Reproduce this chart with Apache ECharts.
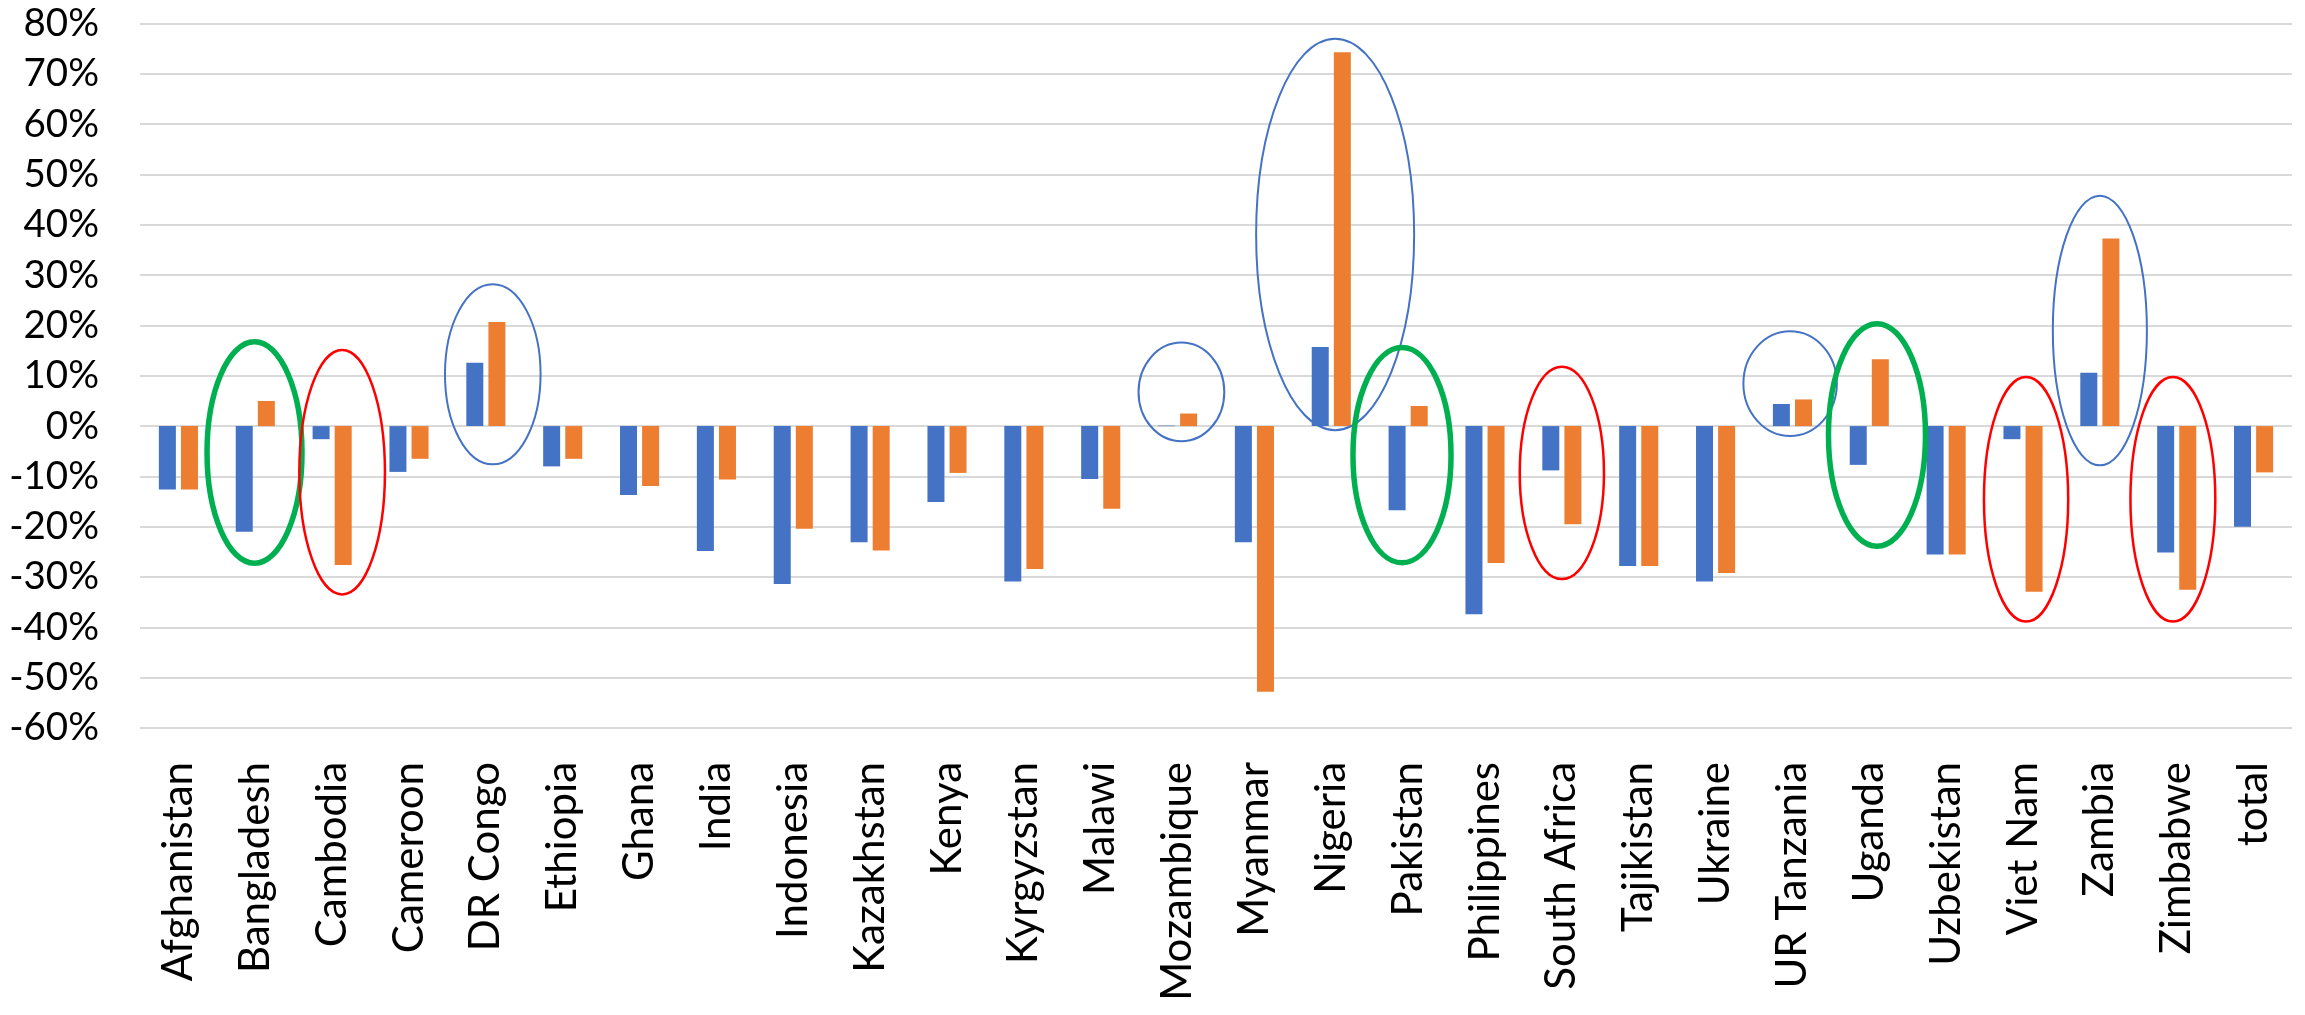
<!DOCTYPE html>
<html>
<head>
<meta charset="utf-8">
<script src="https://cdn.jsdelivr.net/npm/echarts@6/dist/echarts.min.js"></script>
<style>
  html, body { margin: 0; padding: 0; background: #ffffff; }
  #chart { width: 2305px; height: 1015px; }
</style>
</head>
<body>
<div id="chart"></div>
<script>
// ---- data ----
const categories = ['Afghanistan', 'Bangladesh', 'Cambodia', 'Cameroon', 'DR Congo', 'Ethiopia', 'Ghana', 'India',
  'Indonesia', 'Kazakhstan', 'Kenya', 'Kyrgyzstan', 'Malawi', 'Mozambique', 'Myanmar', 'Nigeria', 'Pakistan',
  'Philippines', 'South Africa', 'Tajikistan', 'Ukraine', 'UR Tanzania', 'Uganda', 'Uzbekistan', 'Viet Nam',
  'Zambia', 'Zimbabwe', 'total'];

const seriesA = [-12.6, -21.0, -2.6, -9.1, 12.6, -8.0, -13.7, -24.8, -31.4, -23.1, -15.1, -30.9, -10.5, 0.1,
  -23.1, 15.7, -16.7, -37.4, -8.8, -27.8, -30.9, 4.4, -7.7, -25.5, -2.6, 10.6, -25.1, -20.0];

const seriesB = [-12.6, 5.0, -27.6, -6.5, 20.7, -6.5, -11.9, -10.6, -20.4, -24.7, -9.3, -28.4, -16.4, 2.5,
  -52.8, 74.3, 4.0, -27.2, -19.5, -27.8, -29.2, 5.3, 13.3, -25.5, -32.9, 37.3, -32.5, -9.2];

const yTicks = { min: -60, max: 80, step: 10 };

// annotation ellipses: category, centre value (%), half-height (%)
const ellipseCats   = ['Bangladesh', 'Cambodia', 'DR Congo', 'Mozambique', 'Nigeria', 'Pakistan',
  'South Africa', 'UR Tanzania', 'Uganda', 'Viet Nam', 'Zambia', 'Zimbabwe'];
const ellipseCenter = [-5.25, -9.15, 10.3, 6.8, 38.1, -5.77, -9.3, 8.45, -1.77, -14.55, 19.0, -14.55];
const ellipseHalfH  = [22.0, 24.3, 17.9, 9.8, 38.9, 21.4, 21.1, 10.4, 22.1, 24.3, 26.8, 24.3];
const ellipseKind   = ['green', 'red', 'blue', 'blue', 'blue', 'green', 'red', 'blue', 'green', 'red', 'blue', 'red'];

// ---- styles (kept apart from data) ----
const ellipseShift  = [-0.01, 0.13, 0.09, 0.05, 0.05, -0.08, 0.0, -0.03, 0.10, 0.04, 0.0, -0.05]; // in bands
const ellipseHalfW  = [0.618, 0.557, 0.622, 0.558, 1.028, 0.638, 0.548, 0.608, 0.631, 0.548, 0.612, 0.552]; // in bands
const ellipseStyle = {
  green: { stroke: '#00B050', lineWidth: 5.5 },
  red:   { stroke: '#FF0000', lineWidth: 2.5 },
  blue:  { stroke: '#4472C4', lineWidth: 2 }
};

const ellipseData = ellipseCats.map((c, i) => [categories.indexOf(c), ellipseCenter[i], ellipseHalfH[i], i]);

const chart = echarts.init(document.getElementById('chart'), null, { renderer: 'canvas' });

const FONT = 'Lato, "Noto Sans", sans-serif';

chart.setOption({
  animation: false,
  backgroundColor: '#ffffff',
  grid: { left: 140, right: 13, top: 23.6, bottom: 287, containLabel: false },
  xAxis: {
    type: 'category',
    data: categories,
    axisLine: { show: false },
    axisTick: { show: false },
    splitLine: { show: false },
    axisLabel: {
      interval: 0,
      rotate: 90,
      margin: 34,
      color: '#000000',
      fontFamily: FONT,
      fontSize: 42
    }
  },
  yAxis: {
    type: 'value',
    min: yTicks.min,
    max: yTicks.max,
    interval: yTicks.step,
    axisLine: { show: false },
    axisTick: { show: false },
    splitLine: { lineStyle: { color: '#d9d9d9', width: 2 } },
    axisLabel: {
      formatter: '{value}%',
      margin: 41,
      color: '#000000',
      fontFamily: FONT,
      fontSize: 38.5
    }
  },
  series: [
    {
      name: 'A',
      type: 'bar',
      data: seriesA,
      barWidth: 17,
      barGap: '30%',
      itemStyle: { color: '#4472C4' }
    },
    {
      name: 'B',
      type: 'bar',
      data: seriesB,
      barWidth: 17,
      barGap: '30%',
      itemStyle: { color: '#ED7D31' }
    },
    {
      name: 'marks',
      type: 'custom',
      data: ellipseData,
      z: 10,
      silent: true,
      clip: false,
      renderItem: function (params, api) {
        const idx = api.value(3);
        const center = api.coord([api.value(0), api.value(1)]);
        const band = api.size([1, 0])[0];
        const hh = api.size([0, api.value(2)])[1];
        const st = ellipseStyle[ellipseKind[idx]];
        return {
          type: 'ellipse',
          shape: {
            cx: center[0] + ellipseShift[idx] * band,
            cy: center[1],
            rx: ellipseHalfW[idx] * band,
            ry: hh
          },
          style: { fill: null, stroke: st.stroke, lineWidth: st.lineWidth }
        };
      }
    }
  ]
});
</script>
</body>
</html>
